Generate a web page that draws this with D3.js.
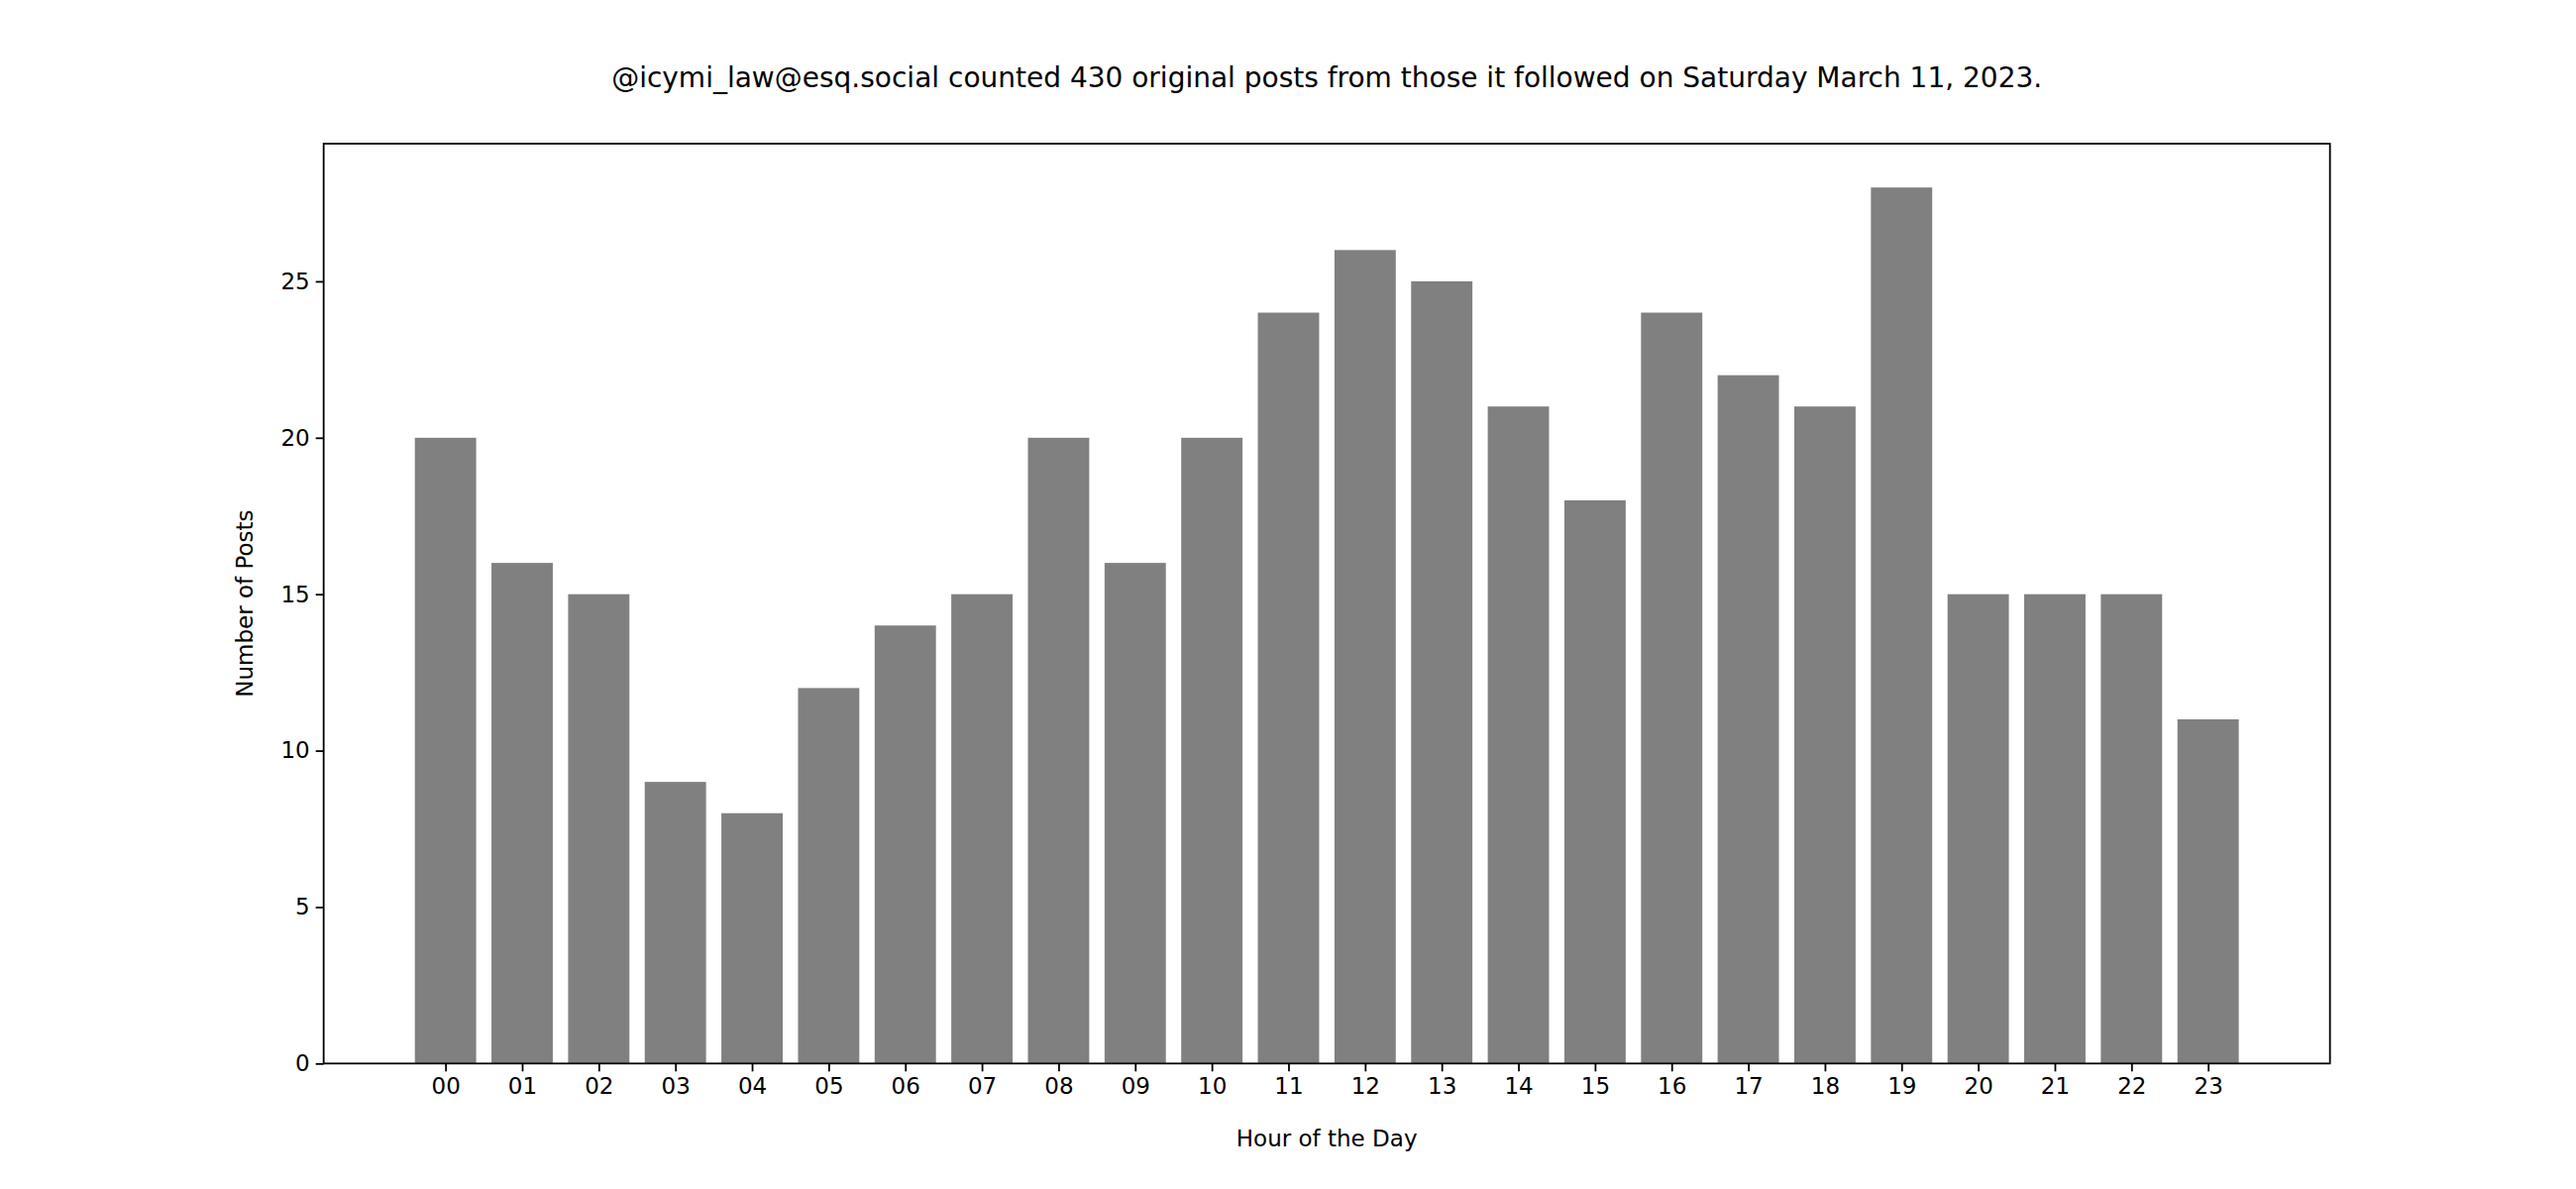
<!DOCTYPE html>
<html>
<head>
<meta charset="utf-8">
<script src="https://cdn.jsdelivr.net/npm/d3@7"></script>
<style>
  body { margin: 0; background: #fff; }
  text { font-family: "DejaVu Sans", sans-serif; }
</style>
</head>
<body>
<svg id="chart" width="2600" height="1200"></svg>
<script>
const hours = ["00","01","02","03","04","05","06","07","08","09","10","11",
               "12","13","14","15","16","17","18","19","20","21","22","23"]
const posts = [20,16,15,9,8,12,14,15,20,16,20,24,26,25,21,18,24,22,21,28,15,15,15,11]
const yTicks = [0,5,10,15,20,25]
const titleText = "@icymi_law@esq.social counted 430 original posts from those it followed on Saturday March 11, 2023."

const k = 5 / 3  // matplotlib figure pixels -> page pixels
const mLeft = 196 * k, mRight = 1411 * k, mTop = 87 * k, mBottom = 644 * k

const svg = d3.select("#chart")

// matplotlib-style positional x scale with 5% margins
const x = d3.scaleLinear().domain([-1.59, 24.59]).range([mLeft, mRight])
const y = d3.scaleLinear().domain([0, 29.4]).range([mBottom, mTop])
const barW = 0.8

svg.selectAll("rect.bar")
    .data(posts)
    .join("rect")
    .attr("class", "bar")
    .attr("x", (d, i) => x(i - barW / 2))
    .attr("width", x(barW) - x(0))
    .attr("y", d => y(d))
    .attr("height", d => y(0) - y(d))
    .attr("fill", "#808080")

const fontSize = 23
const tickLen = 8

const xAxis = svg.append("g")
    .attr("transform", `translate(0,${mBottom})`)
    .call(d3.axisBottom(x).tickValues(d3.range(hours.length)).tickFormat(i => hours[i]).tickSize(tickLen).tickPadding(6))
const yAxis = svg.append("g")
    .attr("transform", `translate(${mLeft},0)`)
    .call(d3.axisLeft(y).tickValues(yTicks).tickSize(tickLen).tickPadding(6))

for (const g of [xAxis, yAxis]) {
    g.select(".domain").remove()
    g.selectAll("line").attr("stroke", "#000").attr("stroke-width", 1.8)
    g.selectAll("text").attr("font-size", fontSize).attr("fill", "#000")
}

// frame
svg.append("rect")
    .attr("x", mLeft).attr("y", mTop)
    .attr("width", mRight - mLeft).attr("height", mBottom - mTop)
    .attr("fill", "none").attr("stroke", "#000").attr("stroke-width", 1.8)

svg.append("text")
    .attr("x", (mLeft + mRight) / 2).attr("y", 694 * k)
    .attr("text-anchor", "middle").attr("font-size", fontSize)
    .text("Hour of the Day")

svg.append("text")
    .attr("transform", `translate(${153 * k},${(mTop + mBottom) / 2}) rotate(-90)`)
    .attr("text-anchor", "middle").attr("font-size", fontSize)
    .text("Number of Posts")

svg.append("text")
    .attr("x", (mLeft + mRight) / 2).attr("y", 53 * k)
    .attr("text-anchor", "middle").attr("font-size", 28)
    .text(titleText)
</script>
</body>
</html>
